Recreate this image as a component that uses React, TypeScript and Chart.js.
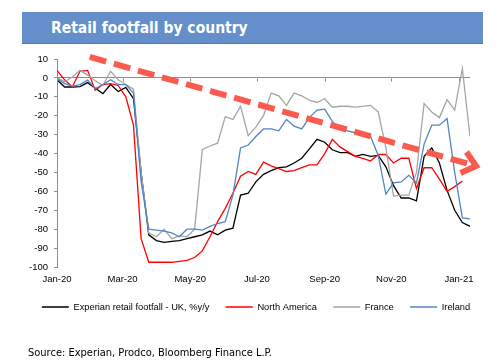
import React, { useEffect, useRef } from "react";
import { Chart, registerables } from "chart.js";

Chart.register(...registerables);

// ---- data ----
const monthLabels = ["Jan-20", "Mar-20", "May-20", "Jul-20", "Sep-20", "Nov-20", "Jan-21"];
const monthTickDays = [0, 60, 122, 183, 245, 306, 368];
const weekStepDays = 7;

const ukFootfall = [
  -1, -4.8, -4.8, -4.6, -2.5, -5.5, -8.3, -3.5, -7.2, -5, -11, -50, -83, -86, -87, -86.5, -86, -85, -84, -83,
  -81, -83, -80.5, -79.5, -62, -61, -55, -51, -49, -47.5, -47, -45, -42.5, -37.5, -32.5, -34, -38, -39.5, -39.5,
  -41.5, -40.5, -41.5, -41, -47, -57, -63.5, -63.5, -65, -41.5, -37, -45, -59.5, -70, -76.5, -78.5,
];
const northAmerica = [
  4, -1, -4.8, 3.5, 4, -6.5, -3.5, -3, -4, -10, -25, -85, -97.5, -97.5, -97.5, -97.5, -97, -96.5, -95, -91.5,
  -84, -76, -69, -61, -52, -49.5, -51, -44.5, -46.5, -48, -49.5, -49, -47.5, -46, -46, -40, -32.5, -36.5, -39,
  -41.5, -42.5, -44, -40.5, -40.5, -45, -42.5, -42.5, -58.5, -47.5, -47.5, -53.5, -60, -57.5, -54.5, null,
];
const france = [
  0, -2, 0.5, 4, 1.5, -1.5, -4, 3.5, -1, -3.5, -6, -50, -82, -84, -80, -85, -83.5, -84, -80, -38, -36, -34.5,
  -20.5, -22, -15, -30.5, -26, -20, -8, -9.5, -14.5, -8, -9.5, -11.8, -13, -11, -15.5, -15, -15, -15.5, -15,
  -14.5, -18, -37, -62.5, -62, -62, -50, -13.5, -18, -21, -11.5, -17, 5, -31,
];
const ireland = [
  -0.5, -3, -4.3, -3.5, -1.2, -5.6, -3.5, -1, -3.5, -3.5, -8, -55, -80, -80.5, -81, -82, -84, -80, -80, -80.5,
  -78.5, -77, -76, -62, -37, -35.5, -31, -27, -27, -28, -22, -25.5, -27, -21, -17, -16.5, -23, -27, -28, -29,
  -29.5, -31, -41, -61.5, -55.5, -55, -51.5, -55.5, -35, -25, -25, -21.5, -50, -74, -74.5,
];
const seriesNames = ["Experian retail footfall - UK, %y/y", "North America", "France", "Ireland"];
const seriesColors = ["#000000", "#ff0000", "#a6a6a6", "#4f86c6"];

// trend arrow (annotation) endpoints in data units
const trendDays = [30, 383.5];
const trendValues = [11.1, -46.6];

const AXIS_GRAY = "#8c8c8c";
const FONT = "'Liberation Sans', Arial, sans-serif";

const toPoints = (vals: (number | null)[]) =>
  vals.map((v, i) => ({ x: i * weekStepDays, y: v }));

const decorPlugin = {
  id: "decor",
  afterDatasetsDraw(chart: any) {
    const xs = chart.scales.x;
    const ys = chart.scales.y;
    const ctx = chart.ctx;
    // small tick marks on the zero line
    const y0 = Math.round(ys.getPixelForValue(0)) + 0.5;
    ctx.save();
    ctx.strokeStyle = AXIS_GRAY;
    ctx.lineWidth = 1;
    ctx.beginPath();
    monthTickDays.forEach((d) => {
      const px = Math.round(xs.getPixelForValue(d)) + 0.5;
      ctx.moveTo(px, y0);
      ctx.lineTo(px, y0 + 3);
    });
    ctx.stroke();
    ctx.restore();

    // trend arrow
    const x1 = xs.getPixelForValue(trendDays[0]);
    const y1 = ys.getPixelForValue(trendValues[0]);
    const x2 = xs.getPixelForValue(trendDays[1]);
    const y2 = ys.getPixelForValue(trendValues[1]);
    const ang = Math.atan2(y2 - y1, x2 - x1);
    ctx.save();
    ctx.strokeStyle = "#fb5b4e";
    ctx.lineWidth = 6;
    ctx.setLineDash([17, 8]);
    ctx.lineCap = "butt";
    ctx.beginPath();
    ctx.moveTo(x1, y1);
    ctx.lineTo(x2 - 4 * Math.cos(ang), y2 - 4 * Math.sin(ang));
    ctx.stroke();
    ctx.setLineDash([]);
    const len = 17;
    const spread = (40 * Math.PI) / 180;
    ctx.lineJoin = "miter";
    ctx.beginPath();
    ctx.moveTo(x2 - len * Math.cos(ang - spread), y2 - len * Math.sin(ang - spread));
    ctx.lineTo(x2, y2);
    ctx.lineTo(x2 - len * Math.cos(ang + spread), y2 - len * Math.sin(ang + spread));
    ctx.stroke();
    ctx.restore();
  },
};

export default function App() {
  const canvasRef = useRef<HTMLCanvasElement | null>(null);

  useEffect(() => {
    if (!canvasRef.current) return;
    const allSeries = [ukFootfall, northAmerica, france, ireland];
    const chart = new Chart(canvasRef.current, {
      type: "line",
      data: {
        datasets: allSeries.map((vals, i) => ({
          label: seriesNames[i],
          data: toPoints(vals),
          borderColor: seriesColors[i],
          backgroundColor: seriesColors[i],
          borderWidth: 1.3,
          pointRadius: 0,
          tension: 0,
          spanGaps: false,
          order: 4 - i,
        })),
      },
      options: {
        animation: false,
        responsive: false,
        maintainAspectRatio: false,
        layout: { padding: { left: 12, right: 0, top: 59, bottom: 39.35 } },
        plugins: {
          tooltip: { enabled: false },
          legend: {
            position: "bottom",
            labels: {
              boxWidth: 27,
              boxHeight: 0,
              padding: 16.35,
              color: "#000",
              font: { family: FONT, size: 9.3 },
              sort: (a: any, b: any) => a.datasetIndex - b.datasetIndex,
            },
          },
        },
        scales: {
          x: {
            type: "linear",
            position: "bottom",
            min: 0,
            max: 378,
            afterBuildTicks: (scale: any) => {
              scale.ticks = monthTickDays.map((v) => ({ value: v }));
            },
            afterFit: (scale: any) => {
              scale.height = 19;
              scale.paddingLeft = 0;
              scale.paddingRight = 0;
            },
            ticks: {
              autoSkip: false,
              maxRotation: 0,
              minRotation: 0,
              padding: 7,
              color: "#000",
              font: { family: FONT, size: 9.5 },
              callback: (_v: any, i: number) => monthLabels[i],
            },
            grid: { display: false, drawTicks: false, tickLength: 0 },
            border: { display: false },
          },
          y: {
            position: "left",
            min: -100,
            max: 10,
            afterFit: (scale: any) => {
              scale.width = 45;
              scale.paddingTop = 0;
              scale.paddingBottom = 0;
            },
            ticks: {
              stepSize: 10,
              padding: 6,
              color: "#000",
              font: { family: FONT, size: 9.5 },
            },
            grid: {
              color: (c: any) => (c.tick && c.tick.value === 0 ? AXIS_GRAY : "rgba(0,0,0,0)"),
              tickColor: AXIS_GRAY,
              tickLength: 3,
              lineWidth: 1,
            },
            border: { display: true, color: AXIS_GRAY, width: 1 },
          },
          yRightSpace: {
            position: "right",
            min: 0,
            max: 1,
            afterFit: (scale: any) => {
              scale.width = 30;
              scale.paddingTop = 0;
              scale.paddingBottom = 0;
            },
            ticks: { display: false },
            grid: { display: false, drawTicks: false },
            border: { display: false },
          },
        },
      },
      plugins: [decorPlugin],
    });
    return () => chart.destroy();
  }, []);

  return (
    <div style={{ position: "fixed", left: 0, top: 0, width: 500, height: 361, background: "#fff", overflow: "hidden" }}>
      <canvas ref={canvasRef} width={500} height={361} style={{ position: "absolute", left: 0, top: 0, width: 500, height: 361 }} />
      <div
        style={{
          position: "absolute",
          left: 22,
          top: 12,
          width: 461,
          height: 32,
          background: "#648fca",
          borderBottom: "1px solid #4c79b6",
          color: "#fff",
          fontFamily: "'DejaVu Sans Condensed', 'DejaVu Sans', sans-serif",
          fontWeight: "bold",
          fontSize: 15.5,
          lineHeight: "33px",
          paddingLeft: 29,
          boxSizing: "border-box",
          whiteSpace: "nowrap",
        }}
      >
        Retail footfall by country
      </div>
      <div
        style={{
          position: "absolute",
          left: 28,
          top: 346,
          fontFamily: "'DejaVu Sans Condensed', 'DejaVu Sans', sans-serif",
          fontSize: 11,
          lineHeight: "14px",
          color: "#000",
          whiteSpace: "nowrap",
        }}
      >
        Source: Experian, Prodco, Bloomberg Finance L.P.
      </div>
    </div>
  );
}
